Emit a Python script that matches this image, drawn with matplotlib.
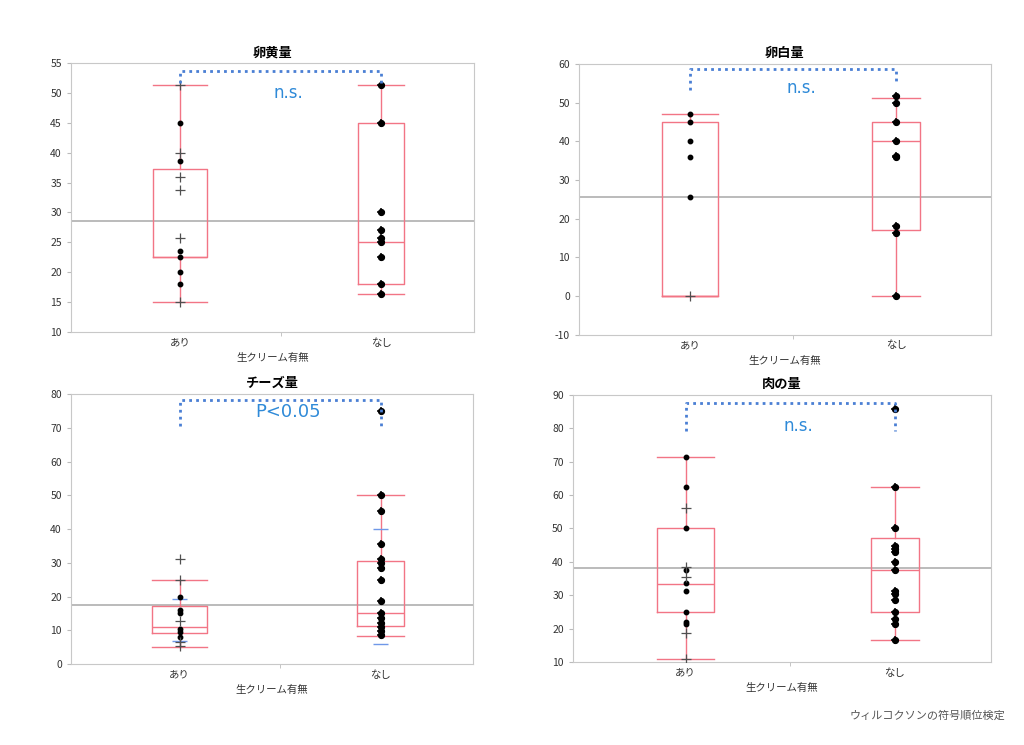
import numpy as np
import matplotlib.pyplot as plt

plt.rcParams['font.family'] = ['Noto Sans CJK JP', 'DejaVu Sans']
plt.rcParams['axes.unicode_minus'] = False

groups = ['あり', 'なし']
xlabel = '生クリーム有無'

# panel titles, y ranges, test result text
titles = ['卵黄量', '卵白量', 'チーズ量', '肉の量']
ylims = [(10, 55), (-10, 60), (0, 80), (10, 90)]
yticks = [np.arange(10, 56, 5), np.arange(-10, 61, 10), np.arange(0, 81, 10), np.arange(10, 91, 10)]
results = ['n.s.', 'n.s.', 'P<0.05', 'n.s.']

# box stats per panel: [あり, なし] -> (whislo, q1, med, q3, whishi)
box_stats = [
    [(15.0, 22.5, 22.5, 37.2, 51.4), (16.4, 18.1, 25.0, 45.0, 51.4)],
    [(0.0, 0.0, 0.0, 45.0, 47.0), (0.0, 17.2, 40.0, 45.0, 51.2)],
    [(4.9, 9.2, 11.0, 17.3, 24.9), (8.4, 11.3, 15.0, 30.4, 50.0)],
    [(11.0, 25.0, 33.3, 50.0, 71.5), (16.5, 25.0, 37.5, 47.0, 62.5)],
]
grand_mean = [28.5, 25.5, 17.6, 38.0]

# raw points (dots) and grey crosses
dots_ari = [
    [45.0, 38.6, 23.6, 22.5, 20.0, 18.0],
    [47.0, 45.0, 40.0, 36.0, 25.7],
    [19.9, 16.0, 15.2, 10.5, 9.6, 8.1],
    [71.5, 62.5, 50.0, 37.5, 33.5, 31.2, 25.0, 22.0, 21.5],
]
cross_ari = [
    [51.4, 40.0, 36.0, 33.7, 25.7, 15.0],
    [0.0],
    [31.1, 25.0, 12.7, 6.5, 5.2],
    [56.2, 38.4, 35.5, 18.6, 11.0],
]
dots_nashi = [
    [51.4, 45.0, 30.0, 27.0, 25.8, 25.0, 22.5, 18.0, 16.4],
    [51.6, 50.0, 45.0, 40.0, 36.2, 36.0, 18.0, 16.4, 0.0],
    [74.9, 50.0, 45.4, 35.7, 31.1, 30.0, 28.5, 25.0, 18.8, 15.0, 13.5, 12.3, 11.0, 9.8, 8.6],
    [85.8, 62.5, 50.0, 44.8, 43.8, 42.8, 40.0, 37.5, 31.4, 30.3, 28.6, 25.0, 22.9, 21.3, 16.5],
]
# blue mean +- sd ticks (only cheese panel)
sd_ticks = [None, None, [(19.4, 6.9), (40.0, 5.8)], None]

# bracket: top y, left foot y, right foot y, text y
brackets = [
    (53.6, 51.6, 51.6, 50.0),
    (58.7, 53.3, 54.6, 53.9),
    (78.1, 70.6, 70.6, 74.7),
    (87.4, 79.2, 79.2, 80.6),
]

positions = [(0.0693, 0.5544, 0.3936, 0.3610),
             (0.5654, 0.5507, 0.4023, 0.3634),
             (0.0693, 0.1087, 0.3926, 0.3624),
             (0.5593, 0.1114, 0.4082, 0.3588)]

red = '#f27585'
blue = '#4a7fd4'
txt_blue = '#2f8ad8'
widths = [0.27, 0.23]

fig = plt.figure(figsize=(10.24, 7.45), dpi=100)

for i in range(4):
    ax = fig.add_axes(positions[i])
    stats = []
    for j in range(2):
        lo, q1, med, q3, hi = box_stats[i][j]
        stats.append(dict(whislo=lo, q1=q1, med=med, q3=q3, whishi=hi, fliers=[]))
    ax.bxp(stats, positions=[0, 1], widths=widths, showfliers=False,
           boxprops=dict(color=red, lw=1), whiskerprops=dict(color=red, lw=1),
           capprops=dict(color=red, lw=1), medianprops=dict(color=red, lw=1),
           capwidths=widths, zorder=2)

    ax.axhline(grand_mean[i], color='#a8a8a8', lw=1.1, zorder=1)

    if sd_ticks[i] is not None:
        for j, (up, dn) in enumerate(sd_ticks[i]):
            ax.hlines([up, dn], j - 0.035, j + 0.035, color='#6f98e8', lw=1, zorder=3)

    d0 = dots_ari[i]
    ax.plot(np.zeros(len(d0)), d0, 'o', color='black', ms=3.2, zorder=4)
    c0 = cross_ari[i]
    ax.plot(np.zeros(len(c0)), c0, '+', color='#505050', ms=7, mew=0.9, zorder=4)
    d1 = dots_nashi[i]
    ax.plot(np.ones(len(d1)), d1, 'o', color='black', ms=4.2, zorder=4)
    ax.plot(np.ones(len(d1)), d1, '+', color='black', ms=6, mew=1.1, zorder=4)

    top, lf, rf, ty = brackets[i]
    ax.plot([0, 0, 1, 1], [lf, top, top, rf], color=blue, lw=2, ls=(0, (1, 1.5)), zorder=5)
    fs = 13 if results[i] == 'P<0.05' else 12
    ax.text(0.54, ty, results[i], color=txt_blue, fontsize=fs, ha='center', va='center',
            family='DejaVu Sans')

    ax.set_xlim(-0.54, 1.46)
    ax.set_ylim(*ylims[i])
    ax.set_yticks(yticks[i])
    ax.set_xticks([0, 1])
    ax.set_xticklabels(groups)
    ax.set_xticks([0.5], minor=True)
    ax.tick_params(axis='x', which='major', length=0, pad=4, labelsize=7.5, labelcolor='#333333')
    ax.tick_params(axis='x', which='minor', length=3, color='#bbbbbb')
    ax.tick_params(axis='y', length=3, color='#bbbbbb', labelsize=7.5, labelcolor='#333333')
    for s in ax.spines.values():
        s.set_color('#c8c8c8')
    ax.set_xlabel(xlabel, fontsize=7.5, color='#333333', labelpad=4)
    ax.set_title(titles[i], fontsize=9.5, fontweight='bold', pad=5)

fig.text(0.982, 0.035, 'ウィルコクソンの符号順位検定', fontsize=8, color='#555555', ha='right')

fig.savefig('out.png', dpi=100)
